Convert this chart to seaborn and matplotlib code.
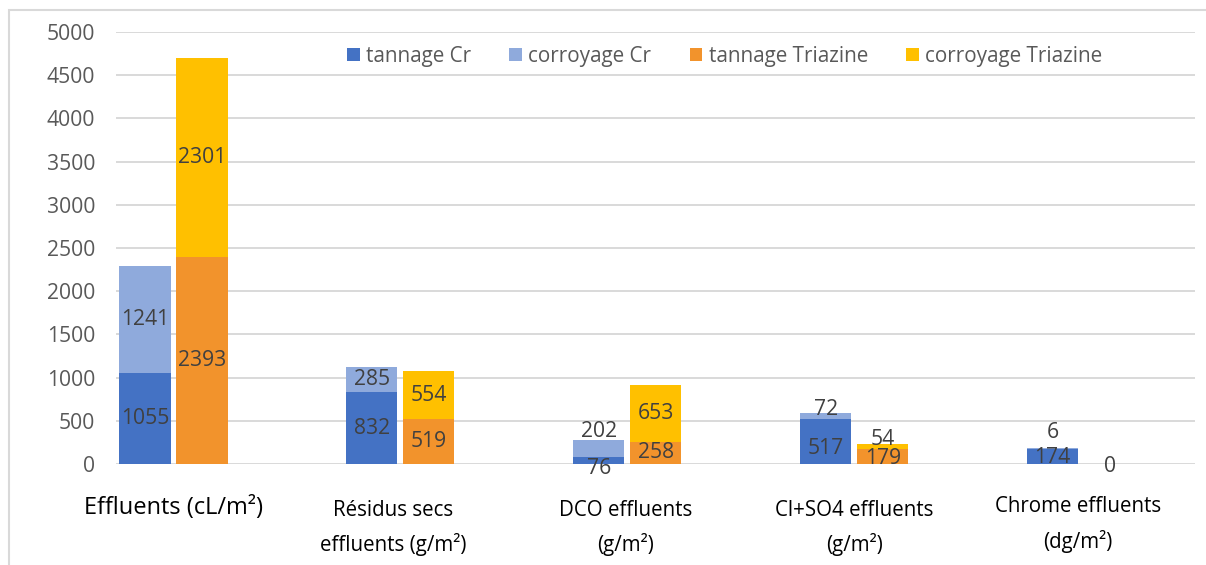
import numpy as np
import pandas as pd
import matplotlib
matplotlib.use("Agg")
import matplotlib.pyplot as plt
from matplotlib.patches import Rectangle, Patch
from matplotlib.transforms import offset_copy
import seaborn as sns

categories = ["Effluents (cL/m²)", "Résidus secs\neffluents (g/m²)", "DCO effluents\n(g/m²)",
              "Cl+SO4 effluents\n(g/m²)", "Chrome effluents\n(dg/m²)"]
tannage_cr = [1055, 832, 76, 517, 174]
corroyage_cr = [1241, 285, 202, 72, 6]
tannage_triazine = [2393, 519, 258, 179, 0]
corroyage_triazine = [2301, 554, 653, 54, np.nan]
series_names = ["tannage Cr", "corroyage Cr", "tannage Triazine", "corroyage Triazine"]
y_ticks = [0, 500, 1000, 1500, 2000, 2500, 3000, 3500, 4000, 4500, 5000]

colors = {"tannage Cr": "#4472C4", "corroyage Cr": "#8FAADC",
          "tannage Triazine": "#F2932C", "corroyage Triazine": "#FFC000"}

sns.set_theme(style="white")
plt.rcParams["font.family"] = ["Open Sans", "DejaVu Sans"]

W, H = 1206, 565
fig = plt.figure(figsize=(W / 100, H / 100), dpi=100)
ax = fig.add_axes([116 / W, 101 / H, (1195 - 116) / W, (464 - 32) / H])

groups = ["Cr", "Triazine"]
rows = []
for i, c in enumerate(categories):
    rows.append({"cat": c, "grp": "Cr", "low": tannage_cr[i],
                 "top": np.nan_to_num(corroyage_cr[i])})
    rows.append({"cat": c, "grp": "Triazine", "low": tannage_triazine[i],
                 "top": np.nan_to_num(corroyage_triazine[i])})
df = pd.DataFrame(rows)
df["total"] = df["low"] + df["top"]

bar_kw = dict(x="cat", hue="grp", order=categories, hue_order=groups, dodge=True,
              width=0.5024, gap=0.105, errorbar=None, legend=False, ax=ax,
              linewidth=0, saturation=1)
sns.barplot(data=df, y="total",
            palette=[colors["corroyage Cr"], colors["corroyage Triazine"]], **bar_kw)
sns.barplot(data=df, y="low",
            palette=[colors["tannage Cr"], colors["tannage Triazine"]], **bar_kw)

ax.set_xlim(-0.2534, 4.502)
ax.set_ylim(0, 5000)
ax.set_yticks(y_ticks)
ax.set_yticklabels([str(t) for t in y_ticks], fontsize=15.2, color="#595959")
ax.tick_params(axis="y", length=0, pad=15)
ax.set_xticks([])
ax.set_xlabel("")
ax.set_ylabel("")
ax.yaxis.grid(True, color="#d9d9d9", linewidth=1.4)
ax.set_axisbelow(True)
for s in ax.spines.values():
    s.set_visible(False)

# value labels, centred in each segment; small segments get their label nudged (px)
offset = 0.1256
nudge = {(2, 0): -8, (2, 1): 17, (3, 0): -7, (3, 1): 7, (3, 2): -2, (3, 3): 7,
         (4, 0): -1.5, (4, 1): 16, (4, 2): -3}
label_color = "#404040"
px = 0.72
for i in range(len(categories)):
    stacks = [(-offset, [tannage_cr[i], corroyage_cr[i]], 0),
              (offset, [tannage_triazine[i], corroyage_triazine[i]], 2)]
    for dx, vals, s0 in stacks:
        base = 0
        for k, v in enumerate(vals):
            if v is None or np.isnan(v):
                continue
            yc = base + v / 2
            dy = nudge.get((i, s0 + k), 0) * px
            ax.annotate(f"{v:g}", (i + dx, yc), xytext=(0, dy), textcoords="offset points",
                        ha="center", va="center", fontsize=15.2, color=label_color)
            base += v

# category labels below the axis (top position in axes fraction, x shift in px)
label_top = [-0.075, -0.083, -0.083, -0.083, -0.074]
label_dx = [0, -7, -2, 0, -3]
for i, c in enumerate(categories):
    size = 17 if i == 0 else 14.8
    tr = offset_copy(ax.get_xaxis_transform(), fig=fig, x=label_dx[i] * px, y=0,
                     units="points")
    ax.text(i, label_top[i], c, transform=tr,
            ha="center", va="top", fontsize=size, color="black", linespacing=1.7)

handles = [Patch(facecolor=colors[n], edgecolor="none") for n in series_names]
ax.legend(handles, series_names, loc="center", bbox_to_anchor=(0.564, 0.944), ncol=4,
          frameon=False, fontsize=14.9, labelcolor="#595959", handlelength=0.62,
          handleheight=0.62, handletextpad=0.3, columnspacing=1.85)

fig.patches.append(Rectangle((9 / W, -0.05), 1.2, 1 + 0.05 - 10 / H,
                             transform=fig.transFigure, fill=False,
                             edgecolor="#d9d9d9", linewidth=1.5))

fig.savefig("out.png", dpi=100, facecolor="white")
